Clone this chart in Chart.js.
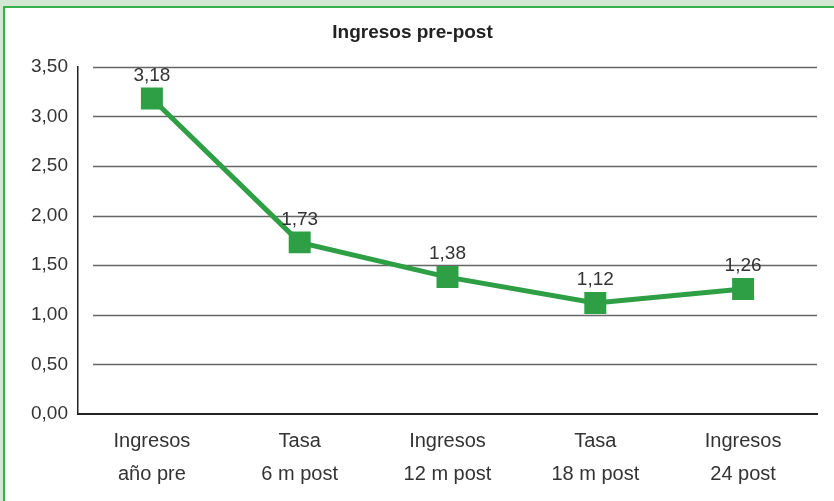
<!DOCTYPE html>
<html lang="es">
<head>
    <meta charset="UTF-8">
    <title>Ingresos pre-post</title>
    <script src="https://cdn.jsdelivr.net/npm/chart.js"></script>
    <style>
        body {
            margin: 0;
            padding: 0;
            background: #d3e8d3;
        }

        .frame {
            position: absolute;
            left: 3px;
            top: 6px;
            width: 829px;
            height: 493px;
            border-top: 2px solid #35b24a;
            border-left: 2px solid #35b24a;
            background: #fff;
        }

        canvas {
            display: block;
        }
    </style>
</head>
<body>
    <div class="frame">
        <canvas id="chart" width="829" height="493"></canvas>
    </div>

    <script>
        // data
        const categories = [
            ['Ingresos', 'año pre'],
            ['Tasa', '6 m post'],
            ['Ingresos', '12 m post'],
            ['Tasa', '18 m post'],
            ['Ingresos', '24 post']
        ];
        const ingresos = [3.18, 1.73, 1.38, 1.12, 1.26];
        const yTicks = [0, 0.5, 1, 1.5, 2, 2.5, 3, 3.5];

        const green = '#2e9f45';
        const textColor = '#333';
        const fontFamily = "'Liberation Sans', Arial, sans-serif";

        const fmt = v => v.toFixed(2).replace('.', ',');

        // gridlines start a bit to the right of the y axis, like the original
        const gridPlugin = {
            id: 'grid',
            beforeDatasetsDraw(chart) {
                const { ctx, chartArea, scales } = chart;
                ctx.save();
                ctx.strokeStyle = '#666';
                ctx.lineWidth = 1.5;
                yTicks.forEach(t => {
                    if (t === 0) return;
                    const y = Math.round(scales.y.getPixelForValue(t)) + 0.5;
                    ctx.beginPath();
                    ctx.moveTo(chartArea.left + 15, y);
                    ctx.lineTo(chartArea.right, y);
                    ctx.stroke();
                });
                ctx.restore();
            }
        };

        // value labels above each point
        const labelPlugin = {
            id: 'valueLabels',
            afterDatasetsDraw(chart) {
                const { ctx } = chart;
                const meta = chart.getDatasetMeta(0);
                ctx.save();
                ctx.font = '19px ' + fontFamily;
                ctx.fillStyle = textColor;
                ctx.textAlign = 'center';
                ctx.textBaseline = 'middle';
                meta.data.forEach((pt, i) => {
                    ctx.fillText(fmt(ingresos[i]), pt.x, pt.y - 23);
                });
                ctx.restore();
            }
        };

        new Chart(document.getElementById('chart'), {
            type: 'line',
            data: {
                labels: categories,
                datasets: [{
                    data: ingresos,
                    borderColor: green,
                    backgroundColor: green,
                    borderWidth: 5,
                    pointStyle: 'rect',
                    pointRadius: 12,
                    pointHoverRadius: 12,
                    tension: 0
                }]
            },
            options: {
                responsive: false,
                animation: false,
                layout: { padding: { left: 0, right: 14, top: 0, bottom: 0 } },
                plugins: {
                    legend: { display: false },
                    tooltip: { enabled: false },
                    title: {
                        display: true,
                        text: 'Ingresos pre-post',
                        color: '#222',
                        font: { family: fontFamily, size: 19, weight: 'bold' },
                        padding: { top: 13, bottom: 23 }
                    }
                },
                scales: {
                    x: {
                        offset: true,
                        grid: { display: false, drawTicks: false },
                        border: { display: true, color: '#222', width: 2 },
                        ticks: {
                            color: textColor,
                            padding: 11,
                            maxRotation: 0,
                            font: { family: fontFamily, size: 20, lineHeight: 1.65 }
                        },
                        afterFit(scale) { scale.height = 87; }
                    },
                    y: {
                        min: 0,
                        max: 3.5,
                        afterBuildTicks(scale) {
                            scale.ticks = yTicks.map(v => ({ value: v }));
                        },
                        grid: { display: false, drawTicks: false },
                        border: { display: true, color: '#222', width: 1.5 },
                        ticks: {
                            color: textColor,
                            padding: 10,
                            font: { family: fontFamily, size: 19 },
                            callback: v => fmt(v)
                        },
                        afterFit(scale) { scale.width = 73; }
                    }
                }
            },
            plugins: [gridPlugin, labelPlugin]
        });
    </script>
</body>
</html>
